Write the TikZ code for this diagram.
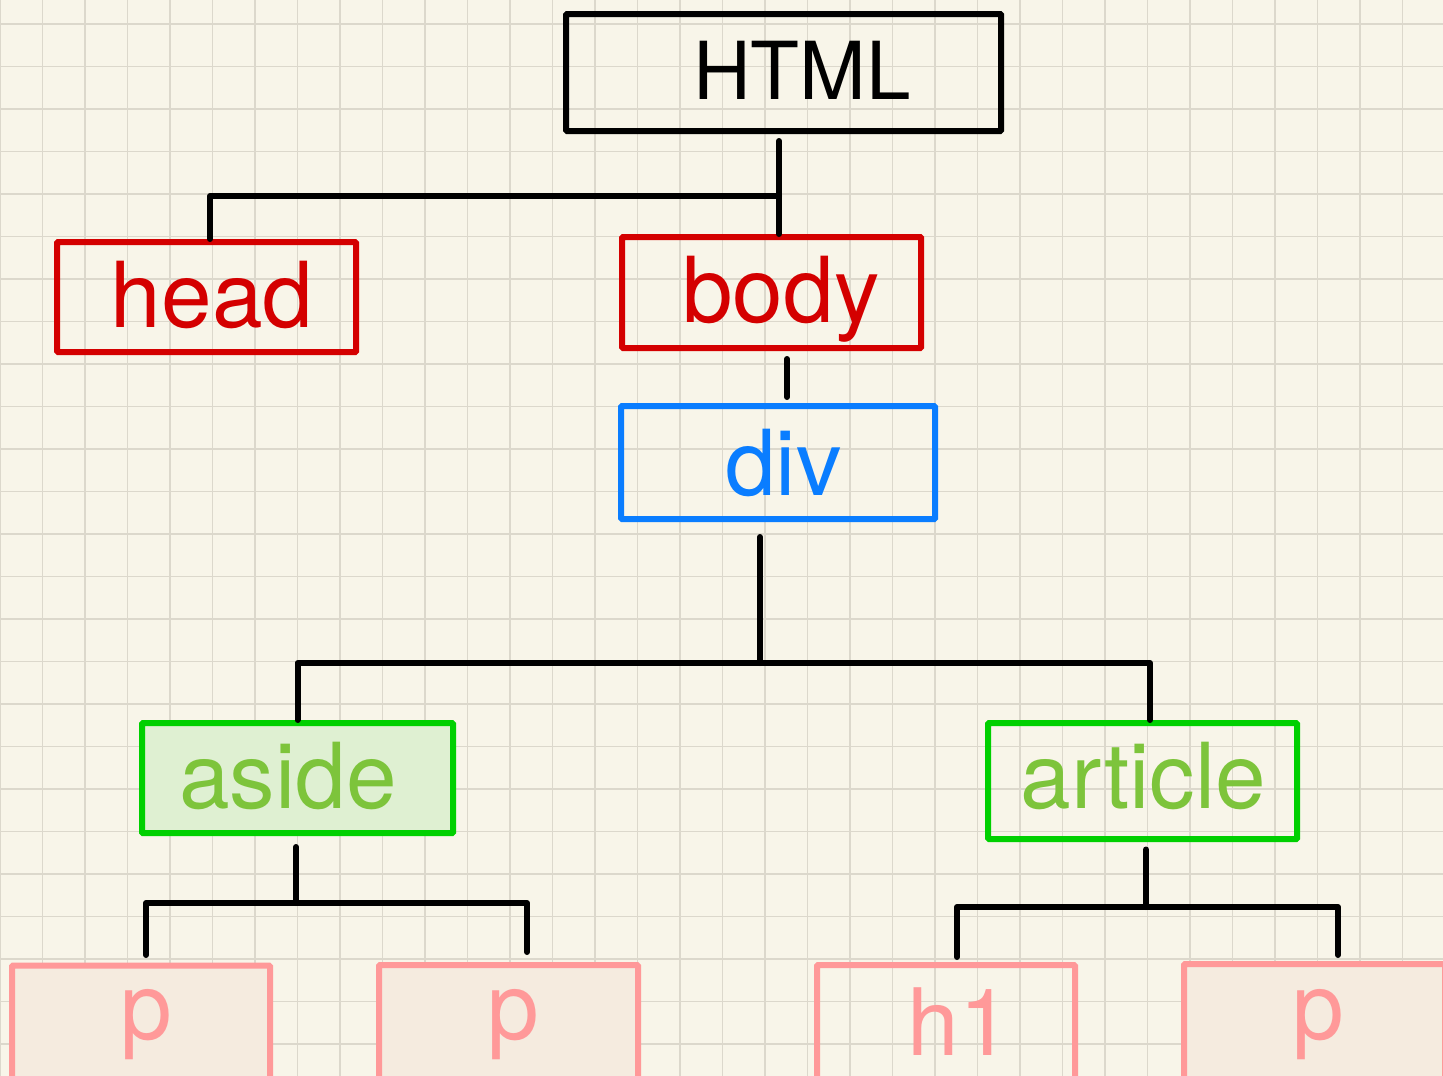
\documentclass[tikz,border=0pt]{standalone}
\usepackage{fontspec}
\setmainfont{TeX Gyre Heros}
\definecolor{bgc}{HTML}{F8F5E9}
\definecolor{gridc}{HTML}{DCD8CC}
\definecolor{redc}{HTML}{D40000}
\definecolor{bluec}{HTML}{0A7DFF}
\definecolor{greenc}{HTML}{00D000}
\definecolor{greentxt}{HTML}{7DC43B}
\definecolor{asidefill}{HTML}{DFF0D2}
\definecolor{pinkc}{HTML}{FF9999}
\definecolor{pfill}{HTML}{F5EBDF}
\tikzset{
  box/.style={draw, rectangle, line width=6pt, inner sep=0pt, rounded corners=1pt},
  conn/.style={draw=black, line width=6pt, line cap=round, line join=round},
  gridline/.style={draw=gridc, line width=1.4pt},
  bigtxt/.style={anchor=base, inner sep=0pt, font=\fontsize{91pt}{91pt}\selectfont},
  ptxt/.style={anchor=base, inner sep=0pt, font=\fontsize{93pt}{93pt}\selectfont, text=pinkc},
  pbox/.style={box, draw=pinkc, fill=pfill, minimum width=259pt, minimum height=122pt}
}
\begin{document}
\begin{tikzpicture}[x=1pt, y=-1pt]
\useasboundingbox (0,0) rectangle (1443,1076);
\fill[bgc] (0,0) rectangle (1443,1076);
\foreach \k in {0,...,33} { \draw[gridline] (\k*42.5,0) -- (\k*42.5,1076); }
\foreach \k in {0,...,24} { \draw[gridline] (0,24+\k*42.5) -- (1443,24+\k*42.5); }

% boxes
\node[box, draw=black, minimum width=435pt, minimum height=117pt] (html) at (783.5,72.5) {};
\node[box, draw=redc, minimum width=299pt, minimum height=110pt] (head) at (206.5,297) {};
\node[box, draw=redc, minimum width=299pt, minimum height=111pt] (body) at (771.5,292.5) {};
\node[box, draw=bluec, minimum width=314pt, minimum height=113pt] (div) at (778,462.5) {};
\node[box, draw=greenc, fill=asidefill, minimum width=311pt, minimum height=110pt] (aside) at (297.5,778) {};
\node[box, draw=greenc, minimum width=309pt, minimum height=116pt] (article) at (1142.5,781) {};
\node[pbox, minimum width=258pt] (p1) at (141,1026.5) {};
\node[pbox] (p2) at (508.5,1026) {};
\node[pbox, fill=none, minimum width=258pt] (h1) at (946,1026) {};
\node[pbox, minimum width=261pt, minimum height=123pt] (p3) at (1314.5,1025.5) {};

% texts
\node[anchor=base, inner sep=0pt, font=\fontsize{80pt}{80pt}\selectfont] (htmlt) at (802,99) {HTML};
\node[bigtxt, text=redc] (headt) at (212,327) {head};
\node[bigtxt, text=redc] (bodyt) at (781,322) {body};
\node[bigtxt, text=bluec] (divt) at (783.5,495) {div};
\node[bigtxt, text=greentxt] (asidet) at (288,808) {aside};
\node[bigtxt, text=greentxt] (articlet) at (1143.5,808) {article};
\node[ptxt] (p1t) at (146,1039) {p};
\node[ptxt] (p2t) at (513,1039) {p};
\node[ptxt] (h1t) at (959,1055) {h1};
\node[ptxt] (p3t) at (1318,1039) {p};

% connectors
\coordinate (j1) at (779,196);
\draw[conn] ([xshift=-4.5pt,yshift=-7pt]html.south) -- ([xshift=7.5pt]body.north);
\draw[conn] (j1) -| ([xshift=3.5pt]head.north);
\draw[conn] ([xshift=15.5pt,yshift=-8pt]body.south) -- ([xshift=9pt,yshift=6pt]div.north);

\coordinate (divbus) at (760,663);
\draw[conn] ([xshift=-18pt,yshift=-15pt]div.south) -- (divbus);
\draw[conn] (aside.north) |- (divbus) -| ([xshift=7.5pt]article.north);

\coordinate (asidebus) at (296,903);
\draw[conn] ([xshift=-1.5pt,yshift=-11pt]aside.south) -- (asidebus);
\draw[conn] ([xshift=5pt,yshift=7.5pt]p1.north) |- (asidebus) -| ([xshift=18.5pt,yshift=10pt]p2.north);

\coordinate (artbus) at (1146,907);
\draw[conn] ([xshift=3.5pt,yshift=-7.5pt]article.south) -- (artbus);
\draw[conn] ([xshift=11pt,yshift=5pt]h1.north) |- (artbus) -| ([xshift=23.5pt,yshift=6pt]p3.north);
\end{tikzpicture}
\end{document}
